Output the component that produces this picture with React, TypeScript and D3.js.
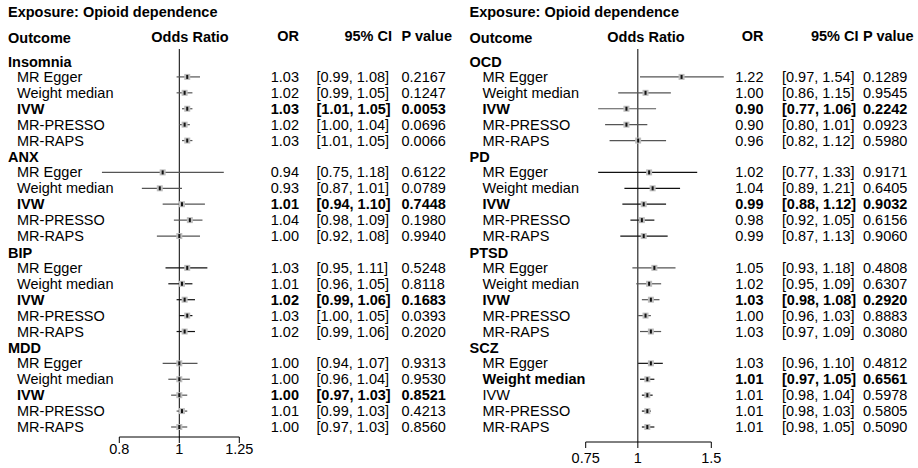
import React from 'react';
import * as d3 from 'd3';

// forest plot: opioid dependence -> psychiatric outcomes (two panels)
const title = 'Exposure: Opioid dependence';
const methods = ['MR Egger', 'Weight median', 'IVW', 'MR-PRESSO', 'MR-RAPS'];

const leftGroups = ['Insomnia', 'ANX', 'BIP', 'MDD'];
const leftOR = [
  [1.03, 1.02, 1.03, 1.02, 1.03],
  [0.94, 0.93, 1.01, 1.04, 1.0],
  [1.03, 1.01, 1.02, 1.03, 1.02],
  [1.0, 1.0, 1.0, 1.01, 1.0],
];
const leftLo = [
  [0.99, 0.99, 1.01, 1.0, 1.01],
  [0.75, 0.87, 0.94, 0.98, 0.92],
  [0.95, 0.96, 0.99, 1.0, 0.99],
  [0.94, 0.96, 0.97, 0.99, 0.97],
];
const leftHi = [
  [1.08, 1.05, 1.05, 1.04, 1.05],
  [1.18, 1.01, 1.1, 1.09, 1.08],
  [1.11, 1.05, 1.06, 1.05, 1.06],
  [1.07, 1.04, 1.03, 1.03, 1.03],
];
const leftP = [
  [0.2167, 0.1247, 0.0053, 0.0696, 0.0066],
  [0.6122, 0.0789, 0.7448, 0.198, 0.994],
  [0.5248, 0.8118, 0.1683, 0.0393, 0.202],
  [0.9313, 0.953, 0.8521, 0.4213, 0.856],
];
const leftBold = ['IVW', 'IVW', 'IVW', 'IVW'];
const leftTicks = [0.8, 1, 1.25];

const rightGroups = ['OCD', 'PD', 'PTSD', 'SCZ'];
const rightOR = [
  [1.22, 1.0, 0.9, 0.9, 0.96],
  [1.02, 1.04, 0.99, 0.98, 0.99],
  [1.05, 1.02, 1.03, 1.0, 1.03],
  [1.03, 1.01, 1.01, 1.01, 1.01],
];
const rightLo = [
  [0.97, 0.86, 0.77, 0.8, 0.82],
  [0.77, 0.89, 0.88, 0.92, 0.87],
  [0.93, 0.95, 0.98, 0.96, 0.97],
  [0.96, 0.97, 0.98, 0.98, 0.98],
];
const rightHi = [
  [1.54, 1.15, 1.06, 1.01, 1.12],
  [1.33, 1.21, 1.12, 1.05, 1.13],
  [1.18, 1.09, 1.08, 1.03, 1.09],
  [1.1, 1.05, 1.04, 1.03, 1.05],
];
const rightP = [
  [0.1289, 0.9545, 0.2242, 0.0923, 0.598],
  [0.9171, 0.6405, 0.9032, 0.6156, 0.906],
  [0.4808, 0.6307, 0.292, 0.8883, 0.308],
  [0.4812, 0.6561, 0.5978, 0.5805, 0.509],
];
const rightBold = ['IVW', 'IVW', 'IVW', 'Weight median'];
const rightTicks = [0.75, 1, 1.5];

const FONT = '"Liberation Sans", Arial, Helvetica, sans-serif';
const FS = 14.5;

type Panel = {
  x0: number; // left edge of text
  indent: number;
  domain: [number, number];
  range: [number, number];
  markShift: number;
  axisY: number;
  tickDy: number;
  orRight: number;
  ciLeft: number;
  ciRight: number;
  pLeft: number;
  oddsCenter: number;
  groups: string[];
  or: number[][];
  lo: number[][];
  hi: number[][];
  p: number[][];
  bold: string[];
  ticks: number[];
  lineColors: string[];
};

const panels: Panel[] = [
  {
    x0: 8, indent: 9, domain: [0.8, 1.25], range: [119.3, 239.3], markShift: 0, axisY: 437, tickDy: 17,
    orRight: 299, ciLeft: 316.5, ciRight: 392, pLeft: 401.5, oddsCenter: 190,
    groups: leftGroups, or: leftOR, lo: leftLo, hi: leftHi, p: leftP, bold: leftBold, ticks: leftTicks,
    lineColors: ['#555', '#555', '#111', '#555'],
  },
  {
    x0: 469.5, indent: 13, domain: [0.75, 1.5], range: [585.7, 711.3], markShift: 7.7, axisY: 442, tickDy: 21,
    orRight: 763.5, ciLeft: 782, ciRight: 858.5, pLeft: 863, oddsCenter: 646,
    groups: rightGroups, or: rightOR, lo: rightLo, hi: rightHi, p: rightP, bold: rightBold, ticks: rightTicks,
    lineColors: ['#555', '#111', '#555', '#111'],
  },
];

const rowY = d3.scaleLinear().domain([0, 23]).range([61, 427]);
const f2 = d3.format('.2f');
const f4 = d3.format('.4f');

function ForestPanel({ pn }: { pn: Panel }) {
  const x = d3.scaleLog().domain(pn.domain).range(pn.range);
  const xm = (v: number) => x(v) + pn.markShift;
  const ref = x(1);
  const rows: React.ReactNode[] = [];

  pn.groups.forEach((g, gi) => {
    const base = gi * 6;
    rows.push(
      <text key={`g${gi}`} x={pn.x0} y={rowY(base) + 6} fontWeight="bold">{g}</text>
    );
    methods.forEach((m, mi) => {
      const cy = rowY(base + 1 + mi);
      const bold = pn.bold[gi] === m ? 'bold' : 'normal';
      const ty = cy + 5;
      const o = pn.or[gi][mi];
      rows.push(
        <g key={`r${gi}-${mi}`}>
          <text x={pn.x0 + pn.indent} y={ty} fontWeight={bold}>{m}</text>
          <line x1={xm(pn.lo[gi][mi])} x2={xm(pn.hi[gi][mi])} y1={cy} y2={cy}
            stroke={pn.lineColors[gi]} strokeWidth={1.2} />
          <rect x={xm(o) - 3} y={cy - 3} width={6} height={6} fill="#bdbdbd" />
          <rect x={xm(o) - 1} y={cy - 2} width={2} height={4} fill="#111" />
          <text x={pn.orRight} y={ty} textAnchor="end" fontWeight={bold}>{f2(o)}</text>
          <text x={pn.ciLeft} y={ty} fontWeight={bold}>
            {`[${f2(pn.lo[gi][mi])}, ${f2(pn.hi[gi][mi])}]`}
          </text>
          <text x={pn.pLeft} y={ty} fontWeight={bold}>{f4(pn.p[gi][mi])}</text>
        </g>
      );
    });
  });

  return (
    <g>
      <text x={pn.x0} y={17} fontWeight="bold">{title}</text>
      <text x={pn.x0} y={43} fontWeight="bold">Outcome</text>
      <text x={pn.oddsCenter} y={42} textAnchor="middle" fontWeight="bold">Odds Ratio</text>
      <text x={pn.orRight} y={41} textAnchor="end" fontWeight="bold">OR</text>
      <text x={pn.ciRight} y={41} textAnchor="end" fontWeight="bold">95% CI</text>
      <text x={pn.pLeft} y={41} fontWeight="bold">P value</text>
      <line x1={ref} x2={ref} y1={49} y2={pn.axisY} stroke="#000" strokeWidth={1} />
      {rows}
      <line x1={pn.range[0]} x2={pn.range[1]} y1={pn.axisY} y2={pn.axisY} stroke="#000" strokeWidth={1} />
      {pn.ticks.map(t => (
        <g key={t}>
          <line x1={x(t)} x2={x(t)} y1={pn.axisY} y2={pn.axisY + 6} stroke="#000" strokeWidth={1} />
          <text x={x(t)} y={pn.axisY + pn.tickDy} textAnchor="middle">{String(t)}</text>
        </g>
      ))}
    </g>
  );
}

export default function App() {
  return (
    <svg width={918} height={468} style={{ position: 'absolute', left: 0, top: 0, background: '#fff' }}
      fontFamily={FONT} fontSize={FS} fill="#000">
      <rect width={918} height={468} fill="#fff" />
      {panels.map((pn, i) => <ForestPanel key={i} pn={pn} />)}
    </svg>
  );
}
